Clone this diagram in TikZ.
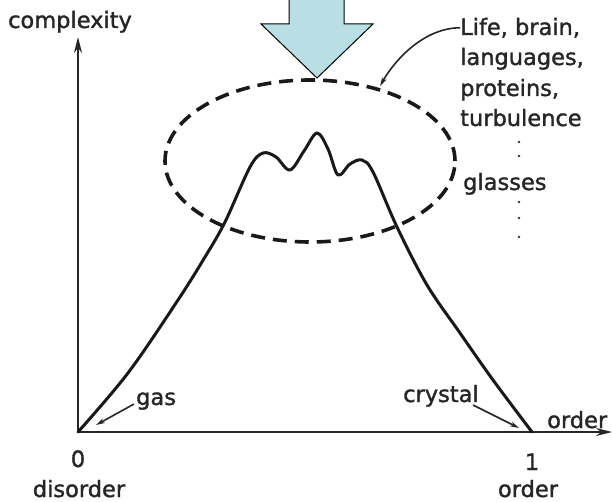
\documentclass[tikz,border=0pt]{standalone}
\usepackage{fontspec}
\setmainfont{DejaVu Sans}
\newfontfamily\lblfont{DejaVu Sans}[FakeBold=1.4]
\usetikzlibrary{arrows.meta,shapes.geometric}
\definecolor{arrowblue}{RGB}{185,223,228}
\tikzset{
  lbl/.style={font=\lblfont\fontsize{22.5}{30}\selectfont, inner sep=0pt, text=black!85},
  axisline/.style={line width=2pt, draw=black!85},
  mainline/.style={line width=3pt, draw=black!90, line join=round, line cap=round},
  leader/.style={line width=1.6pt, draw=black!85, -{Stealth[length=9pt,width=5pt]}},
  blob/.style={ellipse, draw=black!90, line width=3.6pt, dash pattern=on 14pt off 8pt, inner sep=0pt},
  bigarrow/.style={fill=arrowblue, draw=black, line width=1pt, line join=miter}
}
\begin{document}
\begin{tikzpicture}[x=1pt,y=-1pt]
\clip (0,0) rectangle (612,502);
\fill[white] (0,0) rectangle (612,502);

% axes
\coordinate (O) at (78,432);
\coordinate (ytop) at (78,37);
\coordinate (xend) at (612,432);
\coordinate (I) at (532,432);
\draw[axisline, -{Stealth[length=16pt,width=8pt]}] (O) -- (ytop);
\draw[axisline, -{Stealth[length=16pt,width=8pt]}] (O) -- (xend);

% dashed ellipse
\node[blob, minimum width=290pt, minimum height=162pt] (cloud) at (310,161) {};

% main curve
\draw[mainline] plot[smooth, tension=0.55] coordinates {
 (78,432) (128,373) (178,300) (205,257) (225,222) (250,167) (263,153)
 (276,157) (290,170) (304,151) (317,133) (328,149) (338,175) (350,164)
 (362,160) (373,172) (397,227) (427,285) (460,333) (493,380) (532,432)};

% big arrow
\draw[bigarrow] (289,-5) -- (344,-5) -- (344,24) -- (373,24) -- (317,78)
  -- (261,24) -- (289,24) -- cycle;

% labels
\node[lbl, anchor=base] (cx) at (70,28) {complexity};
\node[lbl, anchor=base west] (life) at (460,35) {Life, brain,};
\node[lbl, anchor=base west] (lang) at (460,65) {languages,};
\node[lbl, anchor=base west] (prot) at (460,96) {proteins,};
\node[lbl, anchor=base west] (turb) at (460,126) {turbulence};
\node[lbl, anchor=base west] (glass) at (463,190) {glasses};
\node[lbl, anchor=base west] (gas) at (136,405) {gas};
\node[lbl, anchor=base west] (cry) at (403,402) {crystal};
\node[lbl, anchor=base west] (ordR) at (547,428) {order};
\node[lbl, anchor=base] (zero) at (78,467) {0};
\node[lbl, anchor=base] (dis) at (79,497) {disorder};
\node[lbl, anchor=base] (one) at (532,470) {1};
\node[lbl, anchor=base] (ordB) at (528,497) {order};

% dots
\foreach \yy in {142,156,202,218,237} \fill[black!80] (519,\yy) circle (1.3pt);

% leaders
\coordinate (lifeend) at (380,86);
\coordinate (gasend) at (96,425);
\coordinate (cryend) at (519,428);
\draw[leader] (life.west) .. controls (425,28) and (396,58) .. (lifeend);
\draw[leader] (gas.west) ++(-2,3) -- (gasend);
\draw[leader] (473,405) -- (cryend);
\end{tikzpicture}
\end{document}
